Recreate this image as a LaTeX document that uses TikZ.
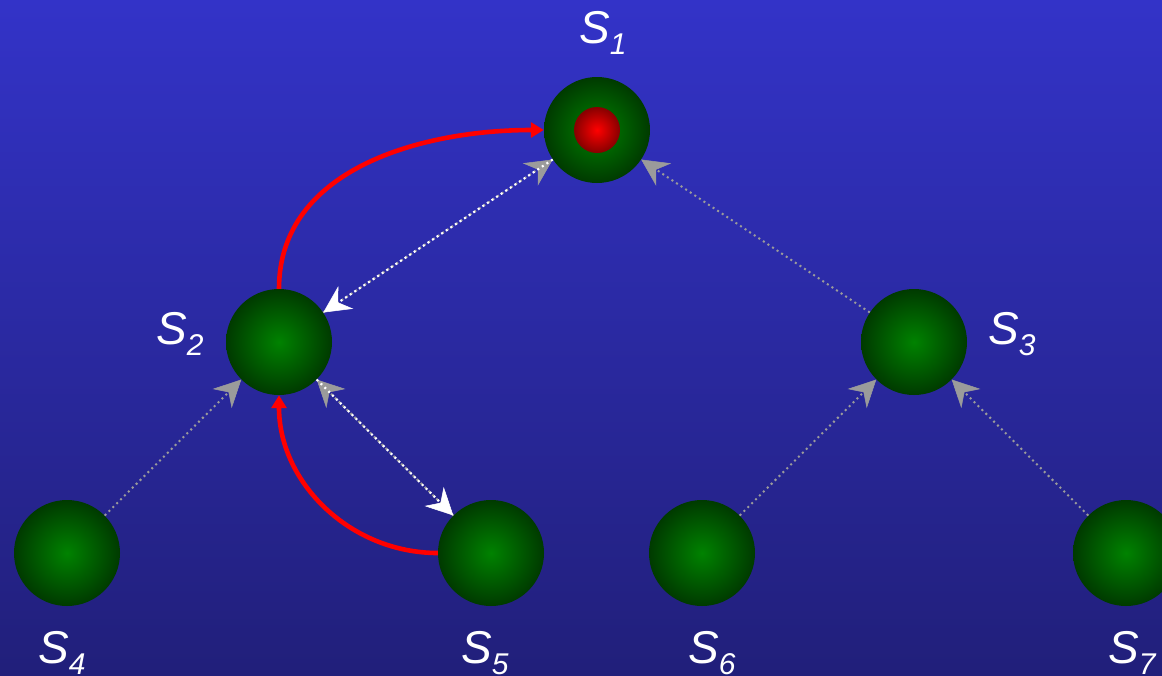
\documentclass[tikz,border=0pt]{standalone}
\usepackage{fontspec}
\setmainfont{Liberation Sans}
\usetikzlibrary{arrows.meta}
\definecolor{bgtop}{RGB}{51,51,200}
\definecolor{bgbot}{RGB}{33,31,122}
\definecolor{gin}{RGB}{0,130,0}
\definecolor{gout}{RGB}{0,58,0}
\definecolor{rin}{RGB}{255,0,0}
\definecolor{rout}{RGB}{135,0,0}
\definecolor{edgegray}{RGB}{155,155,155}
\tikzset{
  state/.style={circle, minimum size=106pt, inner sep=0pt, inner color=gin, outer color=gout},
  token/.style={circle, minimum size=46pt, inner sep=0pt, inner color=rin, outer color=rout},
  lab/.style={anchor=base west, inner sep=0pt, text=white, font=\fontsize{46}{46}\selectfont\itshape},
  tree/.style={draw=edgegray, line width=2pt, dash pattern=on 2pt off 3.5pt,
    -{Stealth[length=27pt,width=27pt,inset=9pt,color=edgegray,fill=edgegray,line width=0.5pt]}},
  msg/.style={draw=white, line width=2.2pt, dash pattern=on 2pt off 3.5pt,
    -{Stealth[length=27pt,width=27pt,inset=9pt,color=white,fill=white,line width=0.5pt]}},
  redarc/.style={draw=red, line width=4.6pt, -{Triangle[length=13pt,width=15pt]}}
}
\newcommand{\lbl}[1]{S\raisebox{-11pt}{\fontsize{30}{30}\selectfont #1}}
\begin{document}
\begin{tikzpicture}[x=1pt,y=-1pt]
\useasboundingbox (0,0) rectangle (1162,675);
\fill[top color=bgtop, bottom color=bgbot] (0,0) rectangle (1162,675);
\node[state] (S1) at (597,130) {};
\node[token] (T1) at (597,130) {};
\node[state] (S2) at (279,342) {};
\node[state] (S3) at (914,342) {};
\node[state] (S4) at (67,553) {};
\node[state] (S5) at (491,553) {};
\node[state] (S6) at (702,553) {};
\node[state] (S7) at (1126,553) {};
\node[lab] (L1) at (579,43) {\lbl{1}};
\node[lab] (L2) at (156,344) {\lbl{2}};
\node[lab] (L3) at (988,344) {\lbl{3}};
\node[lab] (L4) at (38,663) {\lbl{4}};
\node[lab] (L5) at (461,663) {\lbl{5}};
\node[lab] (L6) at (688,663) {\lbl{6}};
\node[lab] (L7) at (1108,663) {\lbl{7}};
\draw[tree] (S2) -- (S1);
\draw[tree] (S3) -- (S1);
\draw[tree] (S4) -- (S2);
\draw[tree] (S5) -- (S2);
\draw[tree] (S6) -- (S3);
\draw[tree] (S7) -- (S3);
\draw[msg] (S1) -- (S2);
\draw[msg] (S2) -- (S5);
\draw[redarc] (S2.north) to[out=90,in=180] (S1.west);
\draw[redarc] (S5.west) to[out=180,in=-90] (S2.south);
\end{tikzpicture}
\end{document}
